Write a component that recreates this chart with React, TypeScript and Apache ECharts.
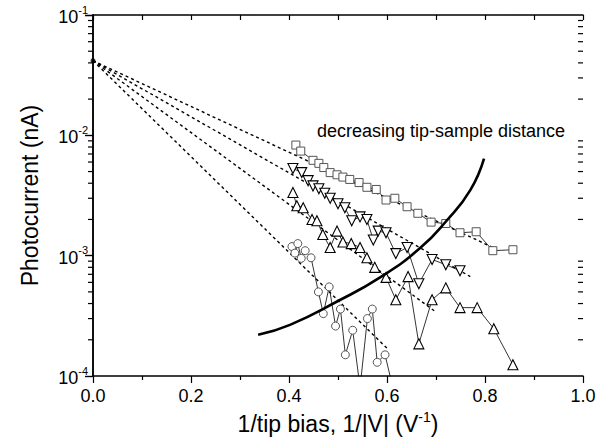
import React, { useEffect, useRef } from "react";
import * as echarts from "echarts";

// ---- data ----
const squareX = [0.414, 0.424, 0.449, 0.461, 0.471, 0.484, 0.498, 0.51, 0.524, 0.543, 0.559, 0.578, 0.598, 0.616, 0.641, 0.663, 0.69, 0.72, 0.749, 0.782, 0.816, 0.857];
const squareY = [8.3e-3, 7.4e-3, 6.2e-3, 5.85e-3, 5.4e-3, 4.9e-3, 4.7e-3, 4.5e-3, 4.3e-3, 4.05e-3, 3.7e-3, 3.55e-3, 2.9e-3, 3.0e-3, 2.55e-3, 2.25e-3, 1.9e-3, 1.85e-3, 1.55e-3, 1.58e-3, 1.1e-3, 1.12e-3];

const downX = [0.408, 0.426, 0.439, 0.449, 0.461, 0.473, 0.484, 0.5, 0.514, 0.528, 0.545, 0.559, 0.572, 0.582, 0.598, 0.618, 0.641, 0.665, 0.692, 0.72, 0.749];
const downY = [5.3e-3, 4.9e-3, 4.2e-3, 3.8e-3, 3.6e-3, 3.3e-3, 3.0e-3, 2.7e-3, 2.5e-3, 1.95e-3, 2.1e-3, 2.0e-3, 1.35e-3, 1.6e-3, 1.55e-3, 1.04e-3, 1.17e-3, 5.85e-4, 9.3e-4, 8.4e-4, 7.5e-4];

const upX = [0.408, 0.416, 0.429, 0.447, 0.457, 0.469, 0.484, 0.498, 0.51, 0.527, 0.545, 0.559, 0.575, 0.598, 0.618, 0.643, 0.665, 0.692, 0.72, 0.749, 0.784, 0.818, 0.857];
const upY = [3.35e-3, 2.6e-3, 2.5e-3, 2.0e-3, 1.95e-3, 1.5e-3, 1.17e-3, 1.6e-3, 1.3e-3, 1.26e-3, 1.17e-3, 9.6e-4, 8.0e-4, 6.6e-4, 4.3e-4, 6.7e-4, 1.85e-4, 4.3e-4, 5.4e-4, 3.7e-4, 3.7e-4, 2.47e-4, 1.24e-4];

const circleX = [0.406, 0.412, 0.418, 0.425, 0.433, 0.445, 0.46, 0.47, 0.482, 0.495, 0.505, 0.515, 0.53, 0.545, 0.56, 0.57, 0.58, 0.596, 0.612];
const circleY = [1.19e-3, 1.05e-3, 1.26e-3, 9.5e-4, 1.1e-3, 9.6e-4, 5.0e-4, 3.3e-4, 5.5e-4, 2.6e-4, 3.6e-4, 1.5e-4, 2.4e-4, 8e-5, 3.0e-4, 3.6e-4, 1.3e-4, 1.5e-4, 8e-5];

// dashed fits: common intercept at x = 0, end points per series
const fitStartX = 0;
const fitStartY = 0.0417;
const fitEndX = [0.82, 0.77, 0.7, 0.6];
const fitEndY = [1.15e-3, 6.7e-4, 3.4e-4, 1.7e-4];

// thick guide curve
const curveX = [0.337, 0.402, 0.5, 0.586, 0.667, 0.722, 0.77, 0.798];
const curveY = [2.2e-4, 2.66e-4, 4.2e-4, 6.6e-4, 1.15e-3, 1.96e-3, 3.5e-3, 6.4e-3];

// axis ranges / ticks
const xMin = 0;
const xMax = 1.0;
const yMin = 1e-4;
const yMax = 1e-1;
const minorLogTicks = [2, 3, 4, 5, 6, 7, 8, 9].flatMap((m) => [m * 1e-4, m * 1e-3, m * 1e-2]);

const annotation = "decreasing tip-sample distance";
const FONT = "'Liberation Sans', Arial, Helvetica, sans-serif";

const zip = (xs: number[], ys: number[]) => xs.map((x, i) => [x, ys[i]]);

export default function App() {
  const ref = useRef<HTMLDivElement>(null);
  useEffect(() => {
    if (!ref.current) return;
    const chart = echarts.init(ref.current, undefined, { renderer: "svg" });
    const markerLine = { color: "#000", width: 0.8 };
    const fitSeries = fitEndX.map((ex, i) => ({
      type: "line",
      data: [[fitStartX, fitStartY], [ex, fitEndY[i]]],
      showSymbol: false,
      symbol: "none",
      lineStyle: { color: "#000", width: 1.4, type: [3, 3] },
      z: 3,
    }));
    chart.setOption({
      animation: false,
      backgroundColor: "#fff",
      textStyle: { fontFamily: FONT },
      grid: { left: 93, right: 30, top: 15, bottom: 69 },
      xAxis: [
        {
          type: "value",
          min: xMin,
          max: xMax,
          interval: 0.2,
          position: "bottom",
          name: "{a|1/tip bias, 1/|V| (V}{s|-1}{a|)}",
          nameLocation: "middle",
          nameGap: 29,
          nameTextStyle: {
            rich: {
              a: { fontSize: 23, fontFamily: FONT, color: "#000", lineHeight: 26, verticalAlign: "bottom" },
              s: { fontSize: 14, fontFamily: FONT, color: "#000", lineHeight: 26, verticalAlign: "top" },
            },
          },
          axisLine: { lineStyle: { color: "#000", width: 1.5 } },
          axisTick: { inside: false, length: 7, lineStyle: { color: "#000", width: 1.2 } },
          minorTick: { show: true, splitNumber: 2, length: 4, lineStyle: { color: "#000", width: 1.2 } },
          splitLine: { show: false },
          axisLabel: { fontSize: 18, color: "#000", fontFamily: FONT, margin: 11, formatter: (v: number) => v.toFixed(1) },
        },
        {
          type: "value",
          min: xMin,
          max: xMax,
          interval: 0.1,
          position: "top",
          axisLine: { lineStyle: { color: "#000", width: 1.5 } },
          axisTick: { inside: true, length: 5, lineStyle: { color: "#000", width: 1.2 } },
          axisLabel: { show: false },
          splitLine: { show: false },
        },
      ],
      yAxis: [
        {
          type: "log",
          logBase: 10,
          min: yMin,
          max: yMax,
          position: "left",
          name: "Photocurrent (nA)",
          nameLocation: "middle",
          nameGap: 52,
          nameTextStyle: { fontSize: 23, color: "#000", fontFamily: FONT },
          axisLine: { lineStyle: { color: "#000", width: 1.5 } },
          axisTick: { inside: false, length: 8, lineStyle: { color: "#000", width: 1.2 } },
          splitLine: { show: false },
          axisLabel: {
            margin: 5,
            formatter: (v: number) => `{b|10}{s|${Math.round(Math.log10(v))}}`,
            rich: {
              b: { fontSize: 18, fontFamily: FONT, color: "#000", lineHeight: 22, verticalAlign: "bottom" },
              s: { fontSize: 11, fontFamily: FONT, color: "#000", lineHeight: 22, verticalAlign: "top" },
            },
          },
        },
        {
          type: "log",
          logBase: 10,
          min: yMin,
          max: yMax,
          position: "right",
          axisLine: { lineStyle: { color: "#000", width: 1.5 } },
          axisTick: { inside: true, length: 8, lineStyle: { color: "#000", width: 1.2 } },
          axisLabel: { show: false },
          splitLine: { show: false },
        },
      ],
      graphic: [
        {
          type: "text",
          left: 317,
          top: 122,
          style: { text: annotation, fontSize: 18, fontFamily: FONT, fill: "#000" },
        },
      ],
      series: [
        {
          type: "custom",
          renderItem: (params: any, api: any) => {
            const v = api.value(1);
            const pL = api.coord([xMin, v]);
            const pR = api.coord([xMax, v]);
            return {
              type: "group",
              children: [
                { type: "line", shape: { x1: pL[0] - 5, y1: pL[1], x2: pL[0], y2: pL[1] }, style: { stroke: "#000", lineWidth: 1.2 } },
                { type: "line", shape: { x1: pR[0] - 5, y1: pR[1], x2: pR[0], y2: pR[1] }, style: { stroke: "#000", lineWidth: 1.2 } },
              ],
            };
          },
          data: minorLogTicks.map((v) => [xMin, v]),
          clip: false,
          silent: true,
          z: 1,
        },
        ...fitSeries,
        {
          type: "scatter",
          data: [[fitStartX, fitStartY]],
          symbol: "circle",
          symbolSize: 5,
          itemStyle: { color: "#000" },
          z: 4,
        },
        {
          type: "line",
          data: zip(squareX, squareY),
          symbol: "rect",
          symbolSize: 8,
          itemStyle: { color: "#fff", borderColor: "#555", borderWidth: 1 },
          lineStyle: markerLine,
          z: 5,
        },
        {
          type: "line",
          data: zip(downX, downY),
          symbol: "triangle",
          symbolRotate: 180,
          symbolSize: 10,
          itemStyle: { color: "#fff", borderColor: "#000", borderWidth: 1.1 },
          lineStyle: markerLine,
          z: 5,
        },
        {
          type: "line",
          data: zip(upX, upY),
          symbol: "triangle",
          symbolSize: 10,
          itemStyle: { color: "#fff", borderColor: "#000", borderWidth: 1.1 },
          lineStyle: markerLine,
          z: 5,
        },
        {
          type: "line",
          data: zip(circleX, circleY),
          symbol: "circle",
          symbolSize: 8,
          itemStyle: { color: "#fff", borderColor: "#555", borderWidth: 1 },
          lineStyle: markerLine,
          z: 5,
        },
        {
          type: "line",
          data: zip(curveX, curveY),
          smooth: true,
          symbol: "none",
          showSymbol: false,
          lineStyle: { color: "#000", width: 2.6 },
          z: 6,
        },
      ],
    });
    return () => chart.dispose();
  }, []);
  return <div ref={ref} style={{ position: "fixed", left: 0, top: 0, width: 613, height: 445, background: "#fff" }} />;
}
